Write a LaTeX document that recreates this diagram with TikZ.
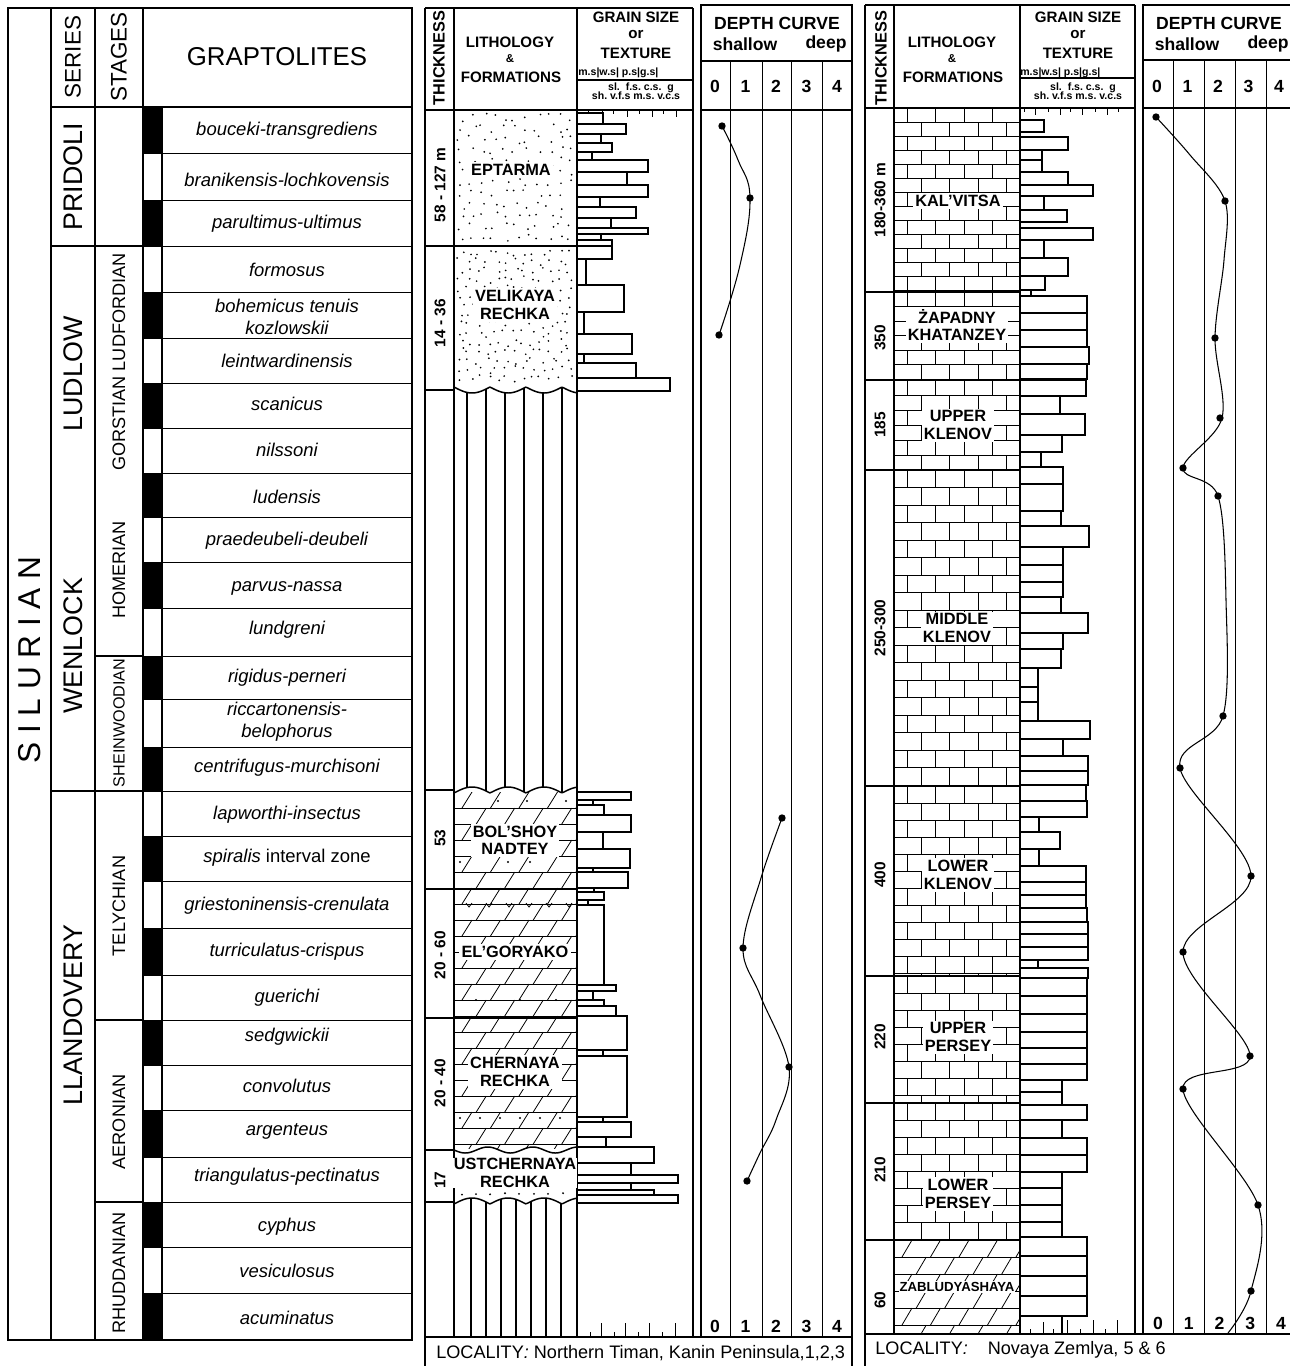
\documentclass[tikz,border=0pt]{standalone}
\usepackage{fontspec}
\setmainfont{Liberation Sans}
\usetikzlibrary{calc}

\newcommand{\fsz}[2]{\fontsize{#1}{#2}\selectfont}

\tikzset{
	frame/.style={line width=0.85pt},
	thinline/.style={line width=0.45pt},
	zonename/.style={font=\fsz{10.5}{12.5}\itshape, align=center, inner sep=0pt},
	serieslabel/.style={rotate=90, font=\fsz{15.3}{17}, inner sep=0pt},
	stagelabel/.style={rotate=90, font=\fsz{10.3}{12}, inner sep=0pt},
	tablehead/.style={font=\fsz{12.8}{14}, inner sep=0pt},
	colhead/.style={font=\bfseries\fsz{8.6}{10}, align=center, inner sep=0pt},
	tinyhead/.style={font=\bfseries\fsz{6}{7}, inner sep=0pt},
	thicklabel/.style={rotate=90, font=\bfseries\fsz{8.8}{10}, inner sep=0pt},
	formation/.style={font=\bfseries\fsz{9.3}{9.9}, align=center, fill=white, inner sep=1.2pt},
	grainbar/.style={draw, line width=0.6pt},
	depthdot/.style={circle, fill=black, inner sep=0pt, minimum size=4.2pt},
	depthline/.style={line width=0.6pt},
	depthnum/.style={font=\bfseries\fsz{10}{12}, inner sep=0pt},
	locality/.style={anchor=west, font=\fsz{10.3}{12}, inner sep=0pt},
}

% limestone bricks: x1 y1 x2 y2 row height
\newcommand{\limestone}[5]{%
	\begin{scope}
		\clip (#1,#2) rectangle (#3,#4);
		\pgfmathtruncatemacro{\nrow}{(#4-#2)/#5}
		\foreach \rw in {0,...,\nrow}{
			\pgfmathsetmacro{\ya}{#2+\rw*#5}
			\pgfmathsetmacro{\yb}{#2+(\rw+1)*#5}
			\pgfmathsetmacro{\brickoff}{mod(\rw,2)*14.25}
			\draw[thinline] (#1,\yb) -- (#3,\yb);
			\foreach \kk in {0,...,4}
				\draw[thinline] ({#1+13+\brickoff+\kk*28.5},\ya) -- ({#1+13+\brickoff+\kk*28.5},\yb);
		}
	\end{scope}}

% dolomite: same rows, slanted joints
\newcommand{\dolomite}[5]{%
	\begin{scope}
		\clip (#1,#2) rectangle (#3,#4);
		\pgfmathtruncatemacro{\nrow}{(#4-#2)/#5}
		\foreach \rw in {0,...,\nrow}{
			\pgfmathsetmacro{\ya}{#2+\rw*#5}
			\pgfmathsetmacro{\yb}{#2+(\rw+1)*#5}
			\pgfmathsetmacro{\brickoff}{mod(\rw,2)*14.25}
			\draw[thinline] (#1,\yb) -- (#3,\yb);
			\foreach \kk in {0,...,4}
				\draw[thinline] ({#1+8+\brickoff+\kk*28.5},\yb) -- ({#1+18+\brickoff+\kk*28.5},\ya);
		}
	\end{scope}}

% sand dots on a jittered grid: x1 y1 x2 y2 spacing
\newcommand{\sanddots}[5]{%
	\pgfmathtruncatemacro{\ncol}{(#3-#1)/#5}
	\pgfmathtruncatemacro{\nrowd}{(#4-#2)/#5}
	\foreach \di in {0,...,\ncol}{
		\foreach \dj in {0,...,\nrowd}{
			\pgfmathsetmacro{\dx}{#1+\di*#5+0.8*#5*rnd}
			\pgfmathsetmacro{\dy}{#2+\dj*#5+0.8*#5*rnd}
			\ifdim\dx pt<#3pt \ifdim\dy pt<#4pt \fill (\dx,\dy) circle (0.55pt); \fi\fi
		}
	}}

% column headings of a locality panel: x shift, name suffix
\newcommand{\panelhead}[2]{%
	\begin{scope}[shift={(#1,0)}]
		\node (thick#2) [thicklabel, font=\bfseries\fsz{9.3}{10}] at (439,58) {THICKNESS};
		\node (litho#2) [colhead] at (510,42) {LITHOLOGY};
		\node (amp#2) [colhead, font=\bfseries\fsz{6.5}{7}] at (510,59) {\&};
		\node (forms#2) [colhead] at (511,77) {FORMATIONS};
		\node (grain#2) [colhead] at (636,17) {GRAIN SIZE};
		\node (or#2) [colhead] at (636,35) {or};
		\node (texture#2) [colhead] at (636,53) {TEXTURE};
		\node (scaleA#2) [tinyhead, anchor=west] at (578,73) {m.s|w.s| p.s|g.s|};
		\node (scaleB#2) [tinyhead] at (641,88) {sl.\ \ f.s.\ c.s.\ \ g};
		\node (scaleC#2) [tinyhead] at (636,96) {sh.\ v.f.s m.s.\ v.c.s};
		\node (depth#2) [colhead, font=\bfseries\fsz{10}{12}] at (777,23) {DEPTH CURVE};
		\node (shallow#2) [colhead, font=\bfseries\fsz{10}{12}] at (745,44) {shallow};
		\node (deep#2) [colhead, font=\bfseries\fsz{10}{12}] at (826,44) {deep};
		\foreach \v in {0,...,4}
			\node (num#2\v) [depthnum] at ({715+30.5*\v},86) {\v};
	\end{scope}}

\begin{document}
\begin{tikzpicture}[x=0.02cm, y=-0.02cm]
	\useasboundingbox (0,0) rectangle (1289,1366);
	\fill[white] (0,0) rectangle (1289,1366);
	\pgfmathsetseed{11}

	% ---------------- Graptolite table ----------------
	\foreach \ya/\yb in {107/153,200/246,292/338,383/428,473/517,562/608,656/699,747/791,836/881,928/975,1020/1065,1110/1157,1202/1247,1293/1340}
		\fill (143,\ya) rectangle (162,\yb);
	\foreach \zb in {153,200,246,292,338,383,428,473,517,562,608,656,699,747,791,836,881,928,975,1020,1065,1110,1157,1202,1247,1293}
		\draw[thinline] (143,\zb) -- (412,\zb);
	\draw[frame] (8,8) rectangle (412,1340);
	\foreach \cx/\ctop in {51/8, 95/8, 143/8, 162/107}
		\draw[frame] (\cx,\ctop) -- (\cx,1340);
	\draw[frame] (51,107) -- (412,107);
	\draw[frame] (51,246) -- (143,246);
	\draw[frame] (51,791) -- (143,791);
	\foreach \sb in {656,1020,1202}
		\draw[frame] (95,\sb) -- (143,\sb);

	\node (silurian) [rotate=90, font=\fsz{18}{20}, inner sep=0pt] at (30,660) {S I L U R I A N};
	\node (hdSeries) [tablehead, rotate=90] at (73,57) {SERIES};
	\node (hdStages) [tablehead, rotate=90] at (119,57) {STAGES};
	\node (hdGrapt) [tablehead, font=\fsz{14.7}{16}] at (277,57) {GRAPTOLITES};

	\node (pridoli) [serieslabel] at (73,177) {PRIDOLI};
	\node (ludlow) [serieslabel] at (73,374) {LUDLOW};
	\node (wenlock) [serieslabel] at (73,646) {WENLOCK};
	\node (llandovery) [serieslabel] at (73,1015) {LLANDOVERY};

	\node (gorstian) [stagelabel] at (119,362) {GORSTIAN LUDFORDIAN};
	\node (homerian) [stagelabel] at (119,570) {HOMERIAN};
	\node (sheinwood) [stagelabel, font=\fsz{9.2}{11}] at (119,723) {SHEINWOODIAN};
	\node (telychian) [stagelabel] at (119,906) {TELYCHIAN};
	\node (aeronian) [stagelabel] at (119,1122) {AERONIAN};
	\node (rhuddanian) [stagelabel] at (119,1273) {RHUDDANIAN};

	\foreach \zi/\zy/\zname in {1/131/{bouceki-transgrediens}, 2/180/{branikensis-lochkovensis},
		3/224/{parultimus-ultimus}, 4/270/{formosus}, 5/317/{bohemicus tenuis\\kozlowskii},
		6/361/{leintwardinensis}, 7/404/{scanicus}, 8/450/{nilssoni}, 9/497/{ludensis},
		10/541/{praedeubeli-deubeli}, 11/588/{parvus-nassa}, 12/630/{lundgreni},
		13/678/{rigidus-perneri}, 14/722/{riccartonensis-\\belophorus},
		15/768/{centrifugus-murchisoni}, 16/815/{lapworthi-insectus},
		17/858/{spiralis \textup{interval zone}}, 18/906/{griestoninensis-crenulata},
		19/952/{turriculatus-crispus}, 20/998/{guerichi}, 21/1037/{sedgwickii},
		22/1086/{convolutus}, 23/1131/{argenteus}, 24/1177/{triangulatus-pectinatus},
		25/1227/{cyphus}, 26/1271/{vesiculosus}, 27/1318/{acuminatus}}
		\node (zone\zi) [zonename] at (287,\zy) {\zname};

	% ---------------- Northern Timan column ----------------
	% sandstone
	\sanddots{457}{113}{574}{243}{11}
	\sanddots{457}{249}{574}{384}{9}
	% shale between the two unconformities
	\begin{scope}
		\clip plot[domain=454:577, samples=80] (\x,{387+6*abs(sin(5*(\x-454)))})
			-- plot[domain=577:454, samples=80] (\x,{793-6*abs(sin(5*(\x-454)))}) -- cycle;
		\foreach \xv in {467,486,...,562}
			\draw[frame] (\xv,380) -- (\xv,800);
	\end{scope}
	% dolomites
	\dolomite{454}{792}{577}{1150}{16}
	\foreach \px/\py in {498/801,527/801,566/801,460/862,508/862,530/862,476/1000,520/1000,556/1000,460/1118,480/1118,500/1118,520/1118,540/1118,560/1118}
		\fill (\px,\py) circle (0.6pt);
	\foreach \vx in {469,489,509,529,549,569}
		\draw[thinline] (\vx-3,903) -- (\vx,907) -- (\vx+3,903);
	\fill[white] (455,1149) rectangle (576,1201);
	\foreach \px in {462,476,490,505,519,534,548,563}
		\fill (\px,{1193+2*rnd}) circle (0.6pt);
	% shale at the base
	\begin{scope}
		\clip plot[domain=454:577, samples=80] (\x,{1204-6*abs(sin(5*(\x-454)))}) -- (577,1337) -- (454,1337) -- cycle;
		\foreach \xv in {471,486,...,561}
			\draw[frame] (\xv,1190) -- (\xv,1337);
	\end{scope}
	% unconformities
	\draw[frame] plot[domain=454:577, samples=80] (\x,{387+6*abs(sin(5*(\x-454)))});
	\draw[frame] plot[domain=454:577, samples=80] (\x,{793-6*abs(sin(5*(\x-454)))});
	\draw[frame] plot[domain=454:577, samples=80] (\x,{1150+3*sin(8*(\x-454))});
	\draw[frame] plot[domain=454:577, samples=80] (\x,{1204-6*abs(sin(5*(\x-454)))});

	% grain size bars
	\foreach \ya/\yb/\xr in {113/124/603,124/134/626,134/143/601,143/152/612,152/160/592,160/172/648,
		172/185/627,185/197/648,197/207/600,207/218/636,218/228/611,228/234/648,234/240/601,
		240/246/612,246/259/612,259/285/586,285/312/624,312/334/584,334/354/632,354/363/584,
		363/378/636,378/391/670,792/800/631,800/805/593,805/815/604,815/832/631,832/849/603,
		849/868/630,868/872/593,872/888/628,888/892/594,892/900/604,900/905/588,905/985/604,
		985/991/616,991/1000/593,1000/1006/604,1006/1016/616,1016/1050/627,1050/1056/603,
		1056/1117/627,1117/1122/603,1122/1137/631,1137/1147/606,1147/1163/654,1163/1175/631,
		1175/1183/678,1183/1190/631,1190/1195/654,1195/1203/678}
		\draw[grainbar] (577,\ya) rectangle (\xr,\yb);
	\foreach \tx/\tl in {588/4,602/7,613/4,627/7,639/4,652/7,663/4,676/7}
		\draw[thinline] (\tx,110) -- (\tx,{110+\tl});
	\foreach \tx/\tl in {590/5,601/14,614/5,625/14,638/5,649/14,662/5,675/14}
		\draw[thinline] (\tx,1337) -- (\tx,{1337-\tl});

	% frame
	\draw[frame] (425,8) -- (693,8);
	\draw[frame] (425,8) -- (425,1366);
	\foreach \cx in {454,577,693}
		\draw[frame] (\cx,8) -- (\cx,1337);
	\draw[frame] (425,110) -- (693,110);
	\draw[frame] (577,80) -- (693,80);
	\draw[frame] (701,5) rectangle (852,1337);
	\draw[frame] (701,61) -- (852,61);
	\draw[frame] (701,110) -- (852,110);
	\foreach \dcol in {730,762,791,822}
		\draw[thinline] (\dcol,61) -- (\dcol,1337);
	\draw[frame] (425,1337) -- (852,1337) -- (852,1366);
	\draw[frame] (425,246) -- (577,246);
	\draw[frame] (454,889) -- (577,889);
	\draw[frame] (454,1018) -- (577,1018);
	\foreach \fb in {246,390,790,889,1018,1150,1202}
		\draw[frame] (425,\fb) -- (454,\fb);

	\panelhead{0}{T}
	\foreach \v in {0,...,4}
		\node (botT\v) [depthnum] at ({715+30.5*\v},1326) {\v};

	\node (thEptarma) [thicklabel] at (440,185) {58 - 127 m};
	\node (thVelikaya) [thicklabel] at (440,323) {14 - 36};
	\node (thNadtey) [thicklabel] at (440,838) {53};
	\node (thGoryako) [thicklabel] at (440,955) {20 - 60};
	\node (thChernaya) [thicklabel] at (440,1083) {20 - 40};
	\node (thUst) [thicklabel] at (440,1180) {17};

	\node (eptarma) [formation] at (511,170) {EPTARMA};
	\node (velikaya) [formation] at (515,305) {VELIKAYA\\RECHKA};
	\node (nadtey) [formation] at (515,840) {BOL'SHOY\\NADTEY};
	\node (goryako) [formation] at (515,952) {EL'GORYAKO};
	\node (chernaya) [formation] at (515,1072) {CHERNAYA\\RECHKA};
	\node (ustchernaya) [formation, inner sep=0.3pt] at (515,1173) {USTCHERNAYA\\RECHKA};

	% depth curve
	\draw[depthline] plot[smooth, tension=0.7] coordinates {(722,126) (738,160) (750,198) (740,265) (719,335)};
	\draw[depthline] plot[smooth, tension=0.6] coordinates {(782,818) (761,878) (743,948) (760,995) (789,1067) (776,1120) (760,1153) (747,1181)};
	\foreach \px/\py [count=\di] in {722/126,750/198,719/335,782/818,743/948,789/1067,747/1181}
		\node (dotT\di) [depthdot] at (\px,\py) {};

	\node (locTiman) [locality] at (436,1353) {LOCALITY\textit{:} Northern Timan, Kanin Peninsula,1,2,3};

	% ---------------- Novaya Zemlya column ----------------
	\limestone{894}{108}{1020}{292}{14}
	\limestone{894}{292}{1020}{380}{14.5}
	\limestone{894}{380}{1020}{470}{15}
	\limestone{894}{470}{1020}{786}{17.5}
	\limestone{894}{786}{1020}{976}{17}
	\limestone{894}{976}{1020}{1103}{17}
	\limestone{894}{1103}{1020}{1240}{17}
	\dolomite{894}{1240}{1020}{1334}{17}

	\foreach \ya/\yb/\xr in {120/132/1044,137/150/1068,150/160/1042,160/172/1042,172/185/1068,
		185/196/1093,196/210/1044,210/222/1067,228/240/1093,240/258/1044,258/276/1068,276/290/1045,
		290/296/1031,296/313/1087,313/330/1087,330/347/1087,347/364/1089,364/379/1087,380/396/1086,
		396/414/1060,414/435/1085,435/452/1062,452/467/1041,467/484/1063,484/511/1063,511/526/1061,
		526/547/1089,547/565/1063,565/582/1063,582/597/1063,597/613/1061,613/633/1088,633/649/1063,
		649/668/1061,668/687/1038,687/702/1038,702/721/1038,721/739/1090,739/756/1063,756/771/1088,
		771/785/1088,785/801/1086,801/817/1087,817/832/1039,832/849/1060,849/866/1039,866/882/1086,
		882/895/1086,895/908/1086,908/922/1087,922/934/1088,934/947/1088,947/960/1088,960/968/1038,
		968/978/1088,978/996/1087,996/1014/1087,1014/1032/1087,1032/1048/1087,1048/1064/1087,
		1064/1080/1087,1080/1092/1062,1092/1105/1062,1105/1120/1087,1120/1138/1062,1138/1155/1087,
		1155/1172/1087,1172/1188/1062,1188/1205/1062,1205/1222/1062,1222/1237/1062,1237/1256/1087,
		1256/1276/1087,1276/1296/1087,1296/1316/1087,1316/1334/1062}
		\draw[grainbar] (1020,\ya) rectangle (\xr,\yb);
	\foreach \tx/\tl in {1024/4,1035/7,1048/4,1060/7,1070/4,1082/7,1095/4,1107/7,1118/4}
		\draw[thinline] (\tx,108) -- (\tx,{108+\tl});
	\foreach \tx/\tl in {1030/5,1043/12,1053/5,1067/14,1080/5,1093/14,1105/5,1117/14}
		\draw[thinline] (\tx,1334) -- (\tx,{1334-\tl});

	% frame
	\draw[frame] (865,5) -- (1135,5);
	\draw[frame] (865,5) -- (865,1366);
	\foreach \cx in {894,1020,1135}
		\draw[frame] (\cx,5) -- (\cx,1334);
	\draw[frame] (865,108) -- (1135,108);
	\draw[frame] (1020,78) -- (1135,78);
	\draw[frame] (1143,5) rectangle (1297,1334);
	\draw[frame] (1143,60) -- (1297,60);
	\draw[frame] (1143,108) -- (1297,108);
	\foreach \dcol in {1173,1204,1235,1266}
		\draw[thinline] (\dcol,60) -- (\dcol,1334);
	\draw[frame] (865,1334) -- (1297,1334);
	\foreach \fb in {292,380,786,976,1103,1240}
		\draw[frame] (865,\fb) -- (1020,\fb);
	\draw[line width=1.4pt] (865,470) -- (1020,470);

	\panelhead{442}{N}
	\foreach \v in {0,...,4}
		\node (botN\v) [depthnum] at ({1158+30.75*\v},1323) {\v};

	\node (thKalvitsa) [thicklabel] at (880,200) {180-360 m};
	\node (thZapadny) [thicklabel] at (880,338) {350};
	\node (thUKlenov) [thicklabel] at (880,425) {185};
	\node (thMKlenov) [thicklabel] at (880,628) {250-300};
	\node (thLKlenov) [thicklabel] at (880,875) {400};
	\node (thUPersey) [thicklabel] at (880,1037) {220};
	\node (thLPersey) [thicklabel] at (880,1170) {210};
	\node (thZabl) [thicklabel] at (880,1300) {60};

	\node (kalvitsa) [formation] at (958,201) {KAL'VITSA};
	\node (zapadny) [formation] at (957,325) {ŻAPADNY\\KHATANZEY};
	\node (uklenov) [formation] at (958,425) {UPPER\\KLENOV};
	\node (mklenov) [formation] at (957,628) {MIDDLE\\KLENOV};
	\node (lklenov) [formation] at (958,875) {LOWER\\KLENOV};
	\node (upersey) [formation] at (958,1037) {UPPER\\PERSEY};
	\node (lpersey) [formation] at (958,1194) {LOWER\\PERSEY};
	\node (zabl) [formation, font=\bfseries\fsz{7.5}{9}, inner sep=0.5pt] at (957,1287) {ZABLUDYASHAYA};

	% depth curve
	\draw[depthline] plot[smooth, tension=0.55] coordinates {(1156,117) (1190,155) (1225,201) (1224,260)
		(1215,338) (1222,418) (1183,468) (1218,496) (1226,600) (1223,716) (1180,768) (1251,876)
		(1183,952) (1250,1056) (1183,1089) (1258,1205) (1251,1291) (1228,1333)};
	\foreach \px/\py [count=\di] in {1156/117,1225/201,1215/338,1220/418,1183/468,1218/496,1223/716,
		1180/768,1251/876,1183/952,1250/1056,1183/1089,1258/1205,1251/1291}
		\node (dotN\di) [depthdot] at (\px,\py) {};

	\node (locZemlya) [locality] at (875,1350) {LOCALITY\textit{:}\hspace{1.1em}Novaya Zemlya, 5 \& 6};
\end{tikzpicture}
\end{document}
